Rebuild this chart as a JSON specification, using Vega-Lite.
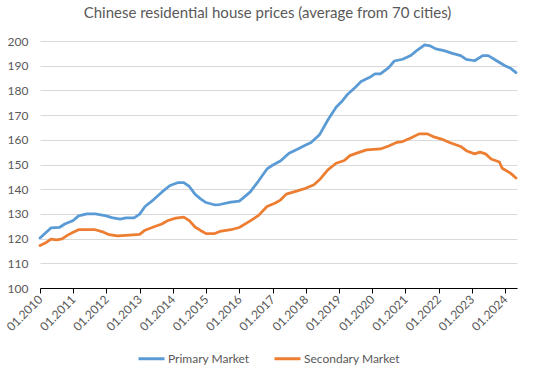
{
  "$schema": "https://vega.github.io/schema/vega-lite/v6.json",
  "autosize": "none",
  "width": 477,
  "height": 247,
  "padding": {"left": 40, "top": 41, "right": 18, "bottom": 88},
  "background": "white",
  "title": {"text": "Chinese residential house prices (average from 70 cities)", "font": "Lato", "fontSize": 15, "fontWeight": "normal", "color": "#595959", "anchor": "middle", "offset": 14, "dx": -11},
  "config": {"view": {"stroke": null}, "font": "Lato"},
  "data": {"values": [
    {"date": "2010-01-01", "market": "Primary Market", "value": 120.2},
    {"date": "2010-05-01", "market": "Primary Market", "value": 124.3},
    {"date": "2010-08-01", "market": "Primary Market", "value": 124.5},
    {"date": "2010-10-01", "market": "Primary Market", "value": 125.9},
    {"date": "2011-01-01", "market": "Primary Market", "value": 127.3},
    {"date": "2011-03-01", "market": "Primary Market", "value": 129.2},
    {"date": "2011-06-01", "market": "Primary Market", "value": 130.0},
    {"date": "2011-09-01", "market": "Primary Market", "value": 130.0},
    {"date": "2012-01-01", "market": "Primary Market", "value": 129.2},
    {"date": "2012-03-01", "market": "Primary Market", "value": 128.5},
    {"date": "2012-06-01", "market": "Primary Market", "value": 127.9},
    {"date": "2012-08-01", "market": "Primary Market", "value": 128.4},
    {"date": "2012-11-01", "market": "Primary Market", "value": 128.4},
    {"date": "2013-01-01", "market": "Primary Market", "value": 129.9},
    {"date": "2013-03-01", "market": "Primary Market", "value": 133.0},
    {"date": "2013-06-01", "market": "Primary Market", "value": 135.7},
    {"date": "2013-09-01", "market": "Primary Market", "value": 138.8},
    {"date": "2013-12-01", "market": "Primary Market", "value": 141.5},
    {"date": "2014-03-01", "market": "Primary Market", "value": 142.7},
    {"date": "2014-05-01", "market": "Primary Market", "value": 142.7},
    {"date": "2014-07-01", "market": "Primary Market", "value": 141.1},
    {"date": "2014-09-01", "market": "Primary Market", "value": 138.0},
    {"date": "2014-11-01", "market": "Primary Market", "value": 136.1},
    {"date": "2015-01-01", "market": "Primary Market", "value": 134.6},
    {"date": "2015-04-01", "market": "Primary Market", "value": 133.7},
    {"date": "2015-06-01", "market": "Primary Market", "value": 133.8},
    {"date": "2015-10-01", "market": "Primary Market", "value": 134.8},
    {"date": "2016-01-01", "market": "Primary Market", "value": 135.2},
    {"date": "2016-02-01", "market": "Primary Market", "value": 136.1},
    {"date": "2016-05-01", "market": "Primary Market", "value": 138.9},
    {"date": "2016-08-01", "market": "Primary Market", "value": 143.4},
    {"date": "2016-11-01", "market": "Primary Market", "value": 148.2},
    {"date": "2017-01-01", "market": "Primary Market", "value": 149.7},
    {"date": "2017-04-01", "market": "Primary Market", "value": 151.5},
    {"date": "2017-07-01", "market": "Primary Market", "value": 154.6},
    {"date": "2017-10-01", "market": "Primary Market", "value": 156.2},
    {"date": "2018-01-01", "market": "Primary Market", "value": 157.9},
    {"date": "2018-03-01", "market": "Primary Market", "value": 158.9},
    {"date": "2018-06-01", "market": "Primary Market", "value": 162.0},
    {"date": "2018-09-01", "market": "Primary Market", "value": 168.0},
    {"date": "2018-12-01", "market": "Primary Market", "value": 173.2},
    {"date": "2019-02-01", "market": "Primary Market", "value": 175.5},
    {"date": "2019-04-01", "market": "Primary Market", "value": 178.2},
    {"date": "2019-07-01", "market": "Primary Market", "value": 181.3},
    {"date": "2019-09-01", "market": "Primary Market", "value": 183.6},
    {"date": "2019-12-01", "market": "Primary Market", "value": 185.2},
    {"date": "2020-02-01", "market": "Primary Market", "value": 186.7},
    {"date": "2020-04-01", "market": "Primary Market", "value": 186.7},
    {"date": "2020-07-01", "market": "Primary Market", "value": 189.2},
    {"date": "2020-09-01", "market": "Primary Market", "value": 191.9},
    {"date": "2020-12-01", "market": "Primary Market", "value": 192.6},
    {"date": "2021-03-01", "market": "Primary Market", "value": 194.1},
    {"date": "2021-05-01", "market": "Primary Market", "value": 196.0},
    {"date": "2021-08-01", "market": "Primary Market", "value": 198.4},
    {"date": "2021-10-01", "market": "Primary Market", "value": 198.0},
    {"date": "2021-12-01", "market": "Primary Market", "value": 196.8},
    {"date": "2022-03-01", "market": "Primary Market", "value": 196.1},
    {"date": "2022-06-01", "market": "Primary Market", "value": 195.0},
    {"date": "2022-09-01", "market": "Primary Market", "value": 194.1},
    {"date": "2022-11-01", "market": "Primary Market", "value": 192.6},
    {"date": "2023-02-01", "market": "Primary Market", "value": 192.0},
    {"date": "2023-05-01", "market": "Primary Market", "value": 194.1},
    {"date": "2023-07-01", "market": "Primary Market", "value": 194.1},
    {"date": "2023-10-01", "market": "Primary Market", "value": 192.0},
    {"date": "2024-01-01", "market": "Primary Market", "value": 190.0},
    {"date": "2024-03-01", "market": "Primary Market", "value": 189.0},
    {"date": "2024-05-01", "market": "Primary Market", "value": 187.2},
    {"date": "2010-01-01", "market": "Secondary Market", "value": 117.2},
    {"date": "2010-03-01", "market": "Secondary Market", "value": 118.2},
    {"date": "2010-05-01", "market": "Secondary Market", "value": 119.8},
    {"date": "2010-07-01", "market": "Secondary Market", "value": 119.5},
    {"date": "2010-09-01", "market": "Secondary Market", "value": 119.9},
    {"date": "2010-11-01", "market": "Secondary Market", "value": 121.4},
    {"date": "2011-01-01", "market": "Secondary Market", "value": 122.6},
    {"date": "2011-03-01", "market": "Secondary Market", "value": 123.6},
    {"date": "2011-06-01", "market": "Secondary Market", "value": 123.6},
    {"date": "2011-09-01", "market": "Secondary Market", "value": 123.6},
    {"date": "2011-12-01", "market": "Secondary Market", "value": 122.6},
    {"date": "2012-02-01", "market": "Secondary Market", "value": 121.6},
    {"date": "2012-05-01", "market": "Secondary Market", "value": 121.1},
    {"date": "2012-08-01", "market": "Secondary Market", "value": 121.3},
    {"date": "2013-01-01", "market": "Secondary Market", "value": 121.7},
    {"date": "2013-03-01", "market": "Secondary Market", "value": 123.4},
    {"date": "2013-06-01", "market": "Secondary Market", "value": 124.7},
    {"date": "2013-09-01", "market": "Secondary Market", "value": 125.9},
    {"date": "2013-11-01", "market": "Secondary Market", "value": 127.2},
    {"date": "2014-02-01", "market": "Secondary Market", "value": 128.3},
    {"date": "2014-05-01", "market": "Secondary Market", "value": 128.7},
    {"date": "2014-07-01", "market": "Secondary Market", "value": 127.3},
    {"date": "2014-09-01", "market": "Secondary Market", "value": 124.7},
    {"date": "2014-11-01", "market": "Secondary Market", "value": 123.3},
    {"date": "2015-01-01", "market": "Secondary Market", "value": 122.0},
    {"date": "2015-04-01", "market": "Secondary Market", "value": 122.0},
    {"date": "2015-06-01", "market": "Secondary Market", "value": 122.9},
    {"date": "2015-10-01", "market": "Secondary Market", "value": 123.6},
    {"date": "2016-01-01", "market": "Secondary Market", "value": 124.5},
    {"date": "2016-05-01", "market": "Secondary Market", "value": 127.2},
    {"date": "2016-08-01", "market": "Secondary Market", "value": 129.4},
    {"date": "2016-11-01", "market": "Secondary Market", "value": 133.0},
    {"date": "2017-02-01", "market": "Secondary Market", "value": 134.4},
    {"date": "2017-04-01", "market": "Secondary Market", "value": 135.7},
    {"date": "2017-06-01", "market": "Secondary Market", "value": 138.0},
    {"date": "2017-10-01", "market": "Secondary Market", "value": 139.3},
    {"date": "2018-01-01", "market": "Secondary Market", "value": 140.4},
    {"date": "2018-04-01", "market": "Secondary Market", "value": 141.8},
    {"date": "2018-06-01", "market": "Secondary Market", "value": 143.8},
    {"date": "2018-09-01", "market": "Secondary Market", "value": 147.8},
    {"date": "2018-12-01", "market": "Secondary Market", "value": 150.5},
    {"date": "2019-03-01", "market": "Secondary Market", "value": 151.6},
    {"date": "2019-05-01", "market": "Secondary Market", "value": 153.6},
    {"date": "2019-08-01", "market": "Secondary Market", "value": 154.8},
    {"date": "2019-11-01", "market": "Secondary Market", "value": 155.9},
    {"date": "2020-04-01", "market": "Secondary Market", "value": 156.3},
    {"date": "2020-07-01", "market": "Secondary Market", "value": 157.5},
    {"date": "2020-10-01", "market": "Secondary Market", "value": 159.0},
    {"date": "2020-12-01", "market": "Secondary Market", "value": 159.3},
    {"date": "2021-03-01", "market": "Secondary Market", "value": 160.7},
    {"date": "2021-06-01", "market": "Secondary Market", "value": 162.4},
    {"date": "2021-09-01", "market": "Secondary Market", "value": 162.4},
    {"date": "2021-11-01", "market": "Secondary Market", "value": 161.3},
    {"date": "2022-02-01", "market": "Secondary Market", "value": 160.3},
    {"date": "2022-05-01", "market": "Secondary Market", "value": 158.9},
    {"date": "2022-09-01", "market": "Secondary Market", "value": 157.3},
    {"date": "2022-11-01", "market": "Secondary Market", "value": 155.6},
    {"date": "2023-02-01", "market": "Secondary Market", "value": 154.3},
    {"date": "2023-04-01", "market": "Secondary Market", "value": 155.0},
    {"date": "2023-06-01", "market": "Secondary Market", "value": 154.3},
    {"date": "2023-08-01", "market": "Secondary Market", "value": 152.2},
    {"date": "2023-11-01", "market": "Secondary Market", "value": 151.0},
    {"date": "2023-12-01", "market": "Secondary Market", "value": 148.5},
    {"date": "2024-03-01", "market": "Secondary Market", "value": 146.5},
    {"date": "2024-05-01", "market": "Secondary Market", "value": 144.5}
  ]},
  "mark": {"type": "line", "strokeWidth": 2.75, "strokeJoin": "round", "strokeCap": "round"},
  "encoding": {
    "x": {
      "field": "date", "type": "temporal",
      "scale": {"type": "utc", "domain": ["2010-01-01", "2024-05-12"]},
      "axis": {
        "title": null, "format": "%m.%Y", "tickCount": {"interval": "year", "step": 1},
        "labelAngle": -45, "labelAlign": "right", "labelBaseline": "middle",
        "labelFont": "Lato", "labelFontSize": 12, "labelColor": "#595959", "labelPadding": 4,
        "domainColor": "#000000", "domainWidth": 1, "tickColor": "#000000", "tickSize": 5,
        "grid": false, "labelFlush": false, "labelOverlap": false
      }
    },
    "y": {
      "field": "value", "type": "quantitative",
      "scale": {"domain": [100, 200], "nice": false, "zero": false},
      "axis": {
        "title": null, "values": [100, 110, 120, 130, 140, 150, 160, 170, 180, 190, 200],
        "domain": false, "ticks": false, "labelPadding": 12,
        "labelFont": "Lato", "labelFontSize": 12, "labelColor": "#595959",
        "gridColor": "#d9d9d9", "gridWidth": 1
      }
    },
    "color": {
      "field": "market", "type": "nominal",
      "scale": {"domain": ["Primary Market", "Secondary Market"], "range": ["#5b9bd5", "#ed7d31"]},
      "legend": {
        "title": null, "orient": "none", "legendX": 97, "legendY": 303, "direction": "horizontal",
        "symbolType": "stroke", "symbolSize": 676, "symbolStrokeWidth": 3,
        "labelFont": "Lato", "labelFontSize": 12, "labelColor": "#595959", "labelOffset": 2, "columnPadding": 18
      }
    }
  }
}
